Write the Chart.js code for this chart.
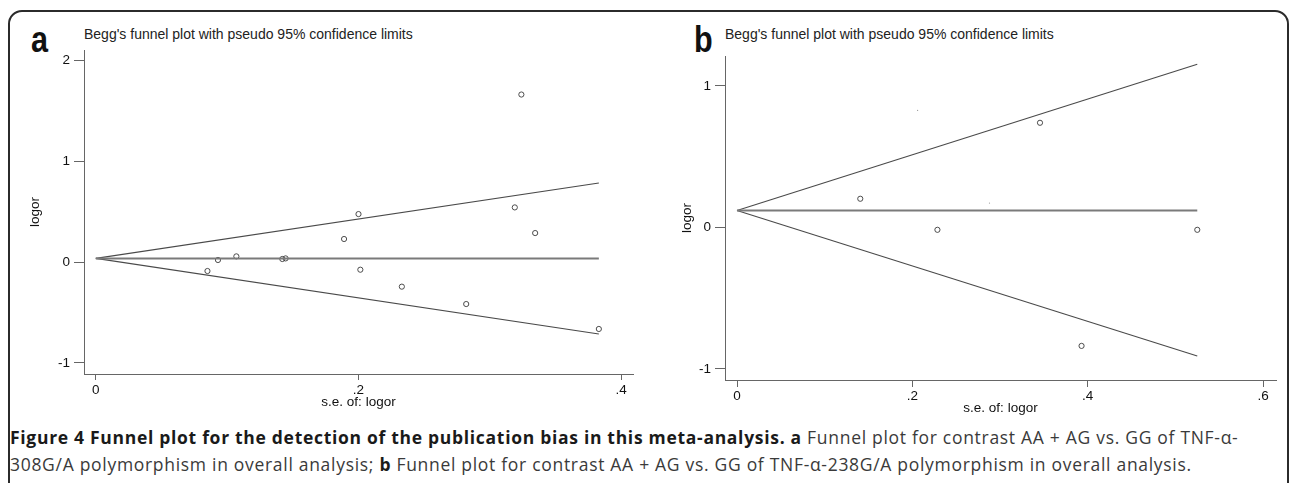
<!DOCTYPE html>
<html>
<head>
<meta charset="utf-8">
<script src="https://cdn.jsdelivr.net/npm/chart.js@4.4.1/dist/chart.umd.min.js"></script>
<style>
    html, body { margin: 0; padding: 0; background: #ffffff; overflow: hidden; }
    body { width: 1293px; height: 483px; position: relative; font-family: "Liberation Sans", Arial, sans-serif; }
    .frame { position: absolute; left: 8px; top: 10px; width: 1281px; height: 520px; border: 2px solid #2b2b2b; border-radius: 14px; box-sizing: border-box; }
    canvas { position: absolute; }
    .panel-letter { position: absolute; font-weight: bold; font-size: 36px; line-height: 36px; color: #111; transform: scaleX(0.85); transform-origin: left top; }
    .panel-title { position: absolute; font-size: 14px; line-height: 14px; color: #222; white-space: nowrap; }
    .caption { position: absolute; left: 10px; font-family: "Open Sans", sans-serif; font-size: 17.5px; line-height: 20px; letter-spacing: 0.7px; color: #3a3a3a; white-space: nowrap; }
    .caption b { color: #1a1a1a; }
</style>
</head>
<body>
<div class="frame"></div>

<div class="panel-letter" style="left:31px; top:22px;">a</div>
<div class="panel-title" style="left:84px; top:27px;">Begg's funnel plot with pseudo 95% confidence limits</div>
<canvas id="chartA" width="640" height="400" style="left:10px; top:20px;"></canvas>

<div class="panel-letter" style="left:694px; top:22px;">b</div>
<div class="panel-title" style="left:725px; top:27px;">Begg's funnel plot with pseudo 95% confidence limits</div>
<canvas id="chartB" width="630" height="400" style="left:660px; top:20px;"></canvas>

<div class="caption" style="top:427px;"><b>Figure 4 Funnel plot for the detection of the publication bias in this meta-analysis. a</b> Funnel plot for contrast AA + AG vs. GG of TNF-α-</div>
<div class="caption" style="top:454px;">308G/A polymorphism in overall analysis; <b>b</b> Funnel plot for contrast AA + AG vs. GG of TNF-α-238G/A polymorphism in overall analysis.</div>

<script>
// Panel a: TNF-a-308G/A studies (s.e. of logor, logor)
const seA = [0.085, 0.093, 0.107, 0.142, 0.1445, 0.189, 0.200, 0.2014, 0.233, 0.282, 0.319, 0.324, 0.3345, 0.383];
const logorA = [-0.089, 0.020, 0.056, 0.030, 0.036, 0.228, 0.475, -0.076, -0.244, -0.416, 0.541, 1.659, 0.287, -0.663];
const funnelSeA = [0, 0.383];
const pooledA = [0.036, 0.036];
const upperA = [0.036, 0.782];
const lowerA = [0.036, -0.713];
const xTicksA = [0, 0.2, 0.4];
const xTickLabelsA = ['0', '.2', '.4'];
const yTicksA = [-1, 0, 1, 2];
const yTickLabelsA = ['-1', '0', '1', '2'];

// Panel b: TNF-a-238G/A studies
const seB = [0.1406, 0.2286, 0.3456, 0.393, 0.525];
const logorB = [0.203, -0.0165, 0.740, -0.837, -0.0165];
const faintSeB = [0.206, 0.288];
const faintLogorB = [0.827, 0.1726];
const funnelSeB = [0, 0.525];
const pooledB = [0.1206, 0.1206];
const upperB = [0.1206, 1.154];
const lowerB = [0.1206, -0.908];
const xTicksB = [0, 0.2, 0.4, 0.6];
const xTickLabelsB = ['0', '.2', '.4', '.6'];
const yTicksB = [-1, 0, 1];
const yTickLabelsB = ['-1', '0', '1'];

const toPoints = (xs, ys) => xs.map((x, i) => ({ x: x, y: ys[i] }));

function lineSet(xs, ys, color, width) {
    return {
        data: toPoints(xs, ys),
        showLine: true,
        borderColor: color,
        borderWidth: width,
        pointRadius: 0,
        fill: false
    };
}

function buildFunnel(canvasId, cfg) {
    const ctx = document.getElementById(canvasId);
    const datasets = [
        lineSet(cfg.funnelSe, cfg.pooled, '#7a7a7a', 2),
        lineSet(cfg.funnelSe, cfg.upper, '#4a4a4a', 1.1),
        lineSet(cfg.funnelSe, cfg.lower, '#4a4a4a', 1.1),
        {
            data: toPoints(cfg.se, cfg.logor),
            pointStyle: 'circle',
            pointRadius: 2.6,
            borderColor: '#3a3a3a',
            backgroundColor: 'rgba(0,0,0,0)',
            borderWidth: 0.9,
            showLine: false
        }
    ];
    if (cfg.faintSe) {
        datasets.push({
            data: toPoints(cfg.faintSe, cfg.faintLogor),
            pointRadius: 0.6,
            borderWidth: 0,
            backgroundColor: '#9a9a9a',
            showLine: false
        });
    }

    return new Chart(ctx, {
        type: 'scatter',
        data: { datasets: datasets },
        options: {
            responsive: false,
            animation: false,
            devicePixelRatio: 1,
            layout: { padding: cfg.padding },
            plugins: {
                legend: { display: false },
                tooltip: { enabled: false }
            },
            scales: {
                x: {
                    type: 'linear',
                    min: cfg.xMin,
                    max: cfg.xMax,
                    afterFit: (scale) => { scale.height = cfg.xAxisHeight; },
                    afterBuildTicks: (scale) => { scale.ticks = cfg.xTicks.map(v => ({ value: v })); },
                    grid: {
                        display: true,
                        drawOnChartArea: false,
                        drawTicks: true,
                        tickLength: cfg.xTickLength,
                        color: '#666666',
                        lineWidth: 1
                    },
                    border: { display: true, color: '#666666', width: 1 },
                    ticks: {
                        autoSkip: false,
                        maxRotation: 0,
                        padding: cfg.xTickPadding,
                        color: '#111111',
                        font: { family: '"Liberation Sans", Arial, sans-serif', size: 13.5 },
                        callback: (value) => cfg.xTickLabels[cfg.xTicks.indexOf(value)]
                    },
                    title: {
                        display: true,
                        text: 's.e. of: logor',
                        color: '#111111',
                        font: { family: '"Liberation Sans", Arial, sans-serif', size: 13.5 },
                        padding: { top: 0, bottom: cfg.xTitlePad }
                    }
                },
                y: {
                    type: 'linear',
                    min: cfg.yMin,
                    max: cfg.yMax,
                    afterFit: (scale) => { scale.width = cfg.yAxisWidth; },
                    afterBuildTicks: (scale) => { scale.ticks = cfg.yTicks.map(v => ({ value: v })); },
                    grid: {
                        display: true,
                        drawOnChartArea: false,
                        drawTicks: true,
                        tickLength: 10,
                        color: '#666666',
                        lineWidth: 1
                    },
                    border: { display: true, color: '#666666', width: 1 },
                    ticks: {
                        autoSkip: false,
                        padding: 4,
                        color: '#111111',
                        font: { family: '"Liberation Sans", Arial, sans-serif', size: 13.5 },
                        callback: (value) => cfg.yTickLabels[cfg.yTicks.indexOf(value)]
                    },
                    title: {
                        display: true,
                        text: 'logor',
                        color: '#111111',
                        font: { family: '"Liberation Sans", Arial, sans-serif', size: 13.5 },
                        padding: { top: cfg.yTitlePad, bottom: 0 }
                    }
                }
            }
        }
    });
}

buildFunnel('chartA', {
    se: seA, logor: logorA,
    funnelSe: funnelSeA, pooled: pooledA, upper: upperA, lower: lowerA,
    xTicks: xTicksA, xTickLabels: xTickLabelsA,
    yTicks: yTicksA, yTickLabels: yTickLabelsA,
    xMin: -0.009, xMax: 0.409, yMin: -1.109, yMax: 2.1,
    padding: { left: 0, top: 30, right: 17, bottom: 0 },
    yAxisWidth: 74, xAxisHeight: 46,
    xTickLength: 6, xTickPadding: 2,
    xTitlePad: 10, yTitlePad: 17
});

buildFunnel('chartB', {
    se: seB, logor: logorB, faintSe: faintSeB, faintLogor: faintLogorB,
    funnelSe: funnelSeB, pooled: pooledB, upper: upperB, lower: lowerB,
    xTicks: xTicksB, xTickLabels: xTickLabelsB,
    yTicks: yTicksB, yTickLabels: yTickLabelsB,
    xMin: -0.0137, xMax: 0.6148, yMin: -1.078, yMax: 1.212,
    padding: { left: 0, top: 36, right: 14, bottom: 0 },
    yAxisWidth: 65, xAxisHeight: 40,
    xTickLength: 7, xTickPadding: 1,
    xTitlePad: 4, yTitlePad: 19
});
</script>
</body>
</html>
